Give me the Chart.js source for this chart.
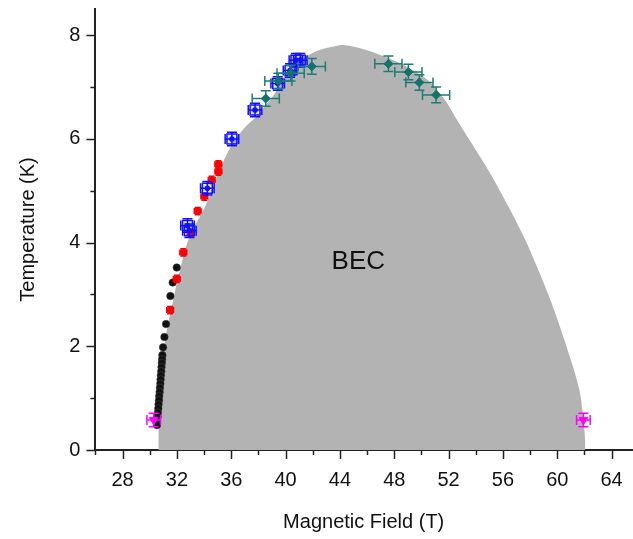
<!DOCTYPE html>
<html><head><meta charset="utf-8">
<script src="https://cdn.jsdelivr.net/npm/chart.js@4.4.1/dist/chart.umd.min.js"></script>
<style>html,body{margin:0;padding:0;background:#fff}canvas{display:block}</style>
</head><body>
<canvas id="c" width="633" height="539"></canvas>
<script>
// ---- tick values ----
const xTickValues = [26,28,30,32,34,36,38,40,42,44,46,48,50,52,54,56,58,60,62,64];
const yTickValues = [0,1,2,3,4,5,6,7,8];

// ---- BEC phase boundary (shaded region) ----
const becField = [30.63,30.63,30.70,30.89,31.13,31.62,32.23,32.89,34.07,35.05,35.98,37.02,37.90,38.26,39.37,40.18,40.91,41.58,42.53,43.64,44.37,45.49,46.97,48.66,50.43,51.73,52.54,53.54,54.64,55.67,56.70,57.65,58.54,59.41,60.15,60.81,61.33,61.70,61.92,62.05,62.07];
const becTemp  = [0.00,0.19,0.83,1.49,2.12,2.76,3.47,4.09,4.69,5.34,5.86,6.23,6.44,6.56,6.94,7.33,7.50,7.60,7.72,7.79,7.81,7.75,7.62,7.43,7.14,6.75,6.40,5.98,5.52,5.05,4.55,4.05,3.51,2.95,2.41,1.89,1.45,1.06,0.58,0.19,0.00];

// ---- black circles ----
const blackField = [31.99,31.69,31.52,31.20,31.08,30.98,30.93,30.91,30.89,30.87,30.85,30.82,30.80,30.78,30.75,30.73,30.70,30.68,30.65,30.63,30.60,30.58,30.55,30.53];
const blackTemp  = [3.52,3.23,2.97,2.43,2.18,1.98,1.83,1.75,1.68,1.60,1.52,1.44,1.36,1.28,1.20,1.12,1.04,0.96,0.88,0.80,0.72,0.64,0.56,0.48];

// ---- red points ----
const redField = [31.50,31.99,32.47,33.02,33.53,34.02,34.56,35.05,35.05];
const redTemp  = [2.70,3.30,3.81,4.19,4.61,4.89,5.21,5.37,5.51];
const redFieldErr = 0.25, redTempErr = 0.07;

// ---- blue squares ----
const blueField = [32.78,32.92,34.24,36.05,37.75,39.42,40.33,40.76,41.08];
const blueTemp  = [4.33,4.23,5.05,6.00,6.56,7.07,7.32,7.52,7.52];
const blueFieldErr = 0.5, blueTempErr = 0.13;

// ---- teal diamonds ----
const tealField = [38.54,39.47,40.37,41.93,47.57,49.04,49.85,51.08];
const tealTemp  = [6.78,7.12,7.27,7.40,7.45,7.29,7.09,6.85];
const tealFieldErr = 1.0, tealTempErr = 0.15;

// ---- magenta triangles ----
const magentaField = [30.29,61.92];
const magentaTemp  = [0.58,0.58];
const magentaFieldErr = 0.5, magentaTempErr = 0.13;

const pts = (xs, ys) => xs.map((x, i) => ({x, y: ys[i]}));
const FONT = "Arial, 'Liberation Sans', sans-serif";

const errorBars = {
  id: 'errorBars',
  beforeDatasetDraw(chart, args) {
    const ds = chart.data.datasets[args.index];
    if (ds.errX == null) return;
    const xs = chart.scales.x, ys = chart.scales.y, ctx = chart.ctx;
    ctx.save();
    ctx.strokeStyle = ds.errColor;
    ctx.lineWidth = ds.errWidth || 1.5;
    const cap = ds.capSize || 4;
    ds.data.forEach(p => {
      const px = xs.getPixelForValue(p.x), py = ys.getPixelForValue(p.y);
      const x0 = xs.getPixelForValue(p.x - ds.errX), x1 = xs.getPixelForValue(p.x + ds.errX);
      const y0 = ys.getPixelForValue(p.y - ds.errY), y1 = ys.getPixelForValue(p.y + ds.errY);
      ctx.beginPath();
      ctx.moveTo(x0, py); ctx.lineTo(x1, py);
      ctx.moveTo(x0, py - cap); ctx.lineTo(x0, py + cap);
      ctx.moveTo(x1, py - cap); ctx.lineTo(x1, py + cap);
      ctx.moveTo(px, y0); ctx.lineTo(px, y1);
      ctx.moveTo(px - cap, y0); ctx.lineTo(px + cap, y0);
      ctx.moveTo(px - cap, y1); ctx.lineTo(px + cap, y1);
      ctx.stroke();
    });
    ctx.restore();
  }
};

const tickMarks = {
  id: 'tickMarks',
  afterDraw(chart) {
    const ctx = chart.ctx, xs = chart.scales.x, ys = chart.scales.y;
    ctx.save();
    ctx.strokeStyle = '#222';
    ctx.lineWidth = 1.5;
    xTickValues.forEach(v => {
      const px = Math.round(xs.getPixelForValue(v)) + 0.5;
      const len = ((v - 28) % 4 === 0) ? 9 : 5;
      ctx.beginPath(); ctx.moveTo(px, xs.top); ctx.lineTo(px, xs.top + len); ctx.stroke();
    });
    yTickValues.forEach(v => {
      const py = Math.round(ys.getPixelForValue(v)) + 0.5;
      const len = (v % 2 === 0) ? 9 : 5;
      ctx.beginPath(); ctx.moveTo(ys.right, py); ctx.lineTo(ys.right - len, py); ctx.stroke();
    });
    ctx.restore();
  }
};

const becLabel = {
  id: 'becLabel',
  afterDatasetsDraw(chart) {
    const ctx = chart.ctx, xs = chart.scales.x, ys = chart.scales.y;
    ctx.save();
    ctx.fillStyle = '#111';
    ctx.font = '26px ' + FONT;
    ctx.textAlign = 'center';
    ctx.textBaseline = 'middle';
    ctx.fillText('BEC', xs.getPixelForValue(45.35), ys.getPixelForValue(3.63));
    ctx.restore();
  }
};

new Chart(document.getElementById('c'), {
  type: 'scatter',
  data: {
    datasets: [
      { label: 'BEC', data: pts(becField, becTemp), showLine: true, fill: 'origin',
        backgroundColor: '#b3b3b3', borderColor: '#b3b3b3', borderWidth: 0,
        pointRadius: 0, tension: 0.35, order: 10 },
      { label: 'black', data: pts(blackField, blackTemp), pointRadius: 3.8,
        backgroundColor: '#111', borderColor: '#444', borderWidth: 0.5, order: 5 },
      { label: 'red', data: pts(redField, redTemp), pointRadius: 3.3,
        backgroundColor: '#ff0000', borderColor: '#ff0000', borderWidth: 1, order: 4,
        errX: redFieldErr, errY: redTempErr, errColor: '#ff0000', errWidth: 1.5, capSize: 3 },
      { label: 'blue', data: pts(blueField, blueTemp), pointStyle: 'rect', pointRadius: 7,
        backgroundColor: 'rgba(0,0,255,0.08)', borderColor: '#1010ff', borderWidth: 1.5, order: 3,
        errX: blueFieldErr, errY: blueTempErr, errColor: '#1010ff', errWidth: 1.5, capSize: 5 },
      { label: 'blueCenter', data: pts(blueField, blueTemp), pointRadius: 2.8,
        backgroundColor: '#1010ff', borderColor: '#1010ff', borderWidth: 0, order: 2 },
      { label: 'teal', data: pts(tealField, tealTemp), pointStyle: 'rectRot', pointRadius: 4.5,
        backgroundColor: '#13736b', borderColor: '#13736b', borderWidth: 1, order: 1,
        errX: tealFieldErr, errY: tealTempErr, errColor: '#1d7d75', errWidth: 1.5, capSize: 5 },
      { label: 'magenta', data: pts(magentaField, magentaTemp), pointStyle: 'triangle', rotation: 180,
        pointRadius: 5, backgroundColor: '#ff00ff', borderColor: '#ff00ff', borderWidth: 1, order: 0,
        errX: magentaFieldErr, errY: magentaTempErr, errColor: '#ff00ff', errWidth: 1.5, capSize: 5 }
    ]
  },
  options: {
    responsive: false,
    animation: false,
    devicePixelRatio: 1,
    layout: { autoPadding: false, padding: { top: 9, right: 1, left: 0, bottom: 0 } },
    plugins: { legend: { display: false }, tooltip: { enabled: false } },
    scales: {
      x: {
        type: 'linear', min: 26, max: 65.5,
        afterBuildTicks: s => { s.ticks = xTickValues.map(v => ({value: v})); },
        afterFit: s => { s.height = 89; s.paddingLeft = 0; s.paddingRight = 0; },
        grid: { display: false, drawTicks: true, tickLength: 18 },
        border: { display: true, color: '#222', width: 2 },
        ticks: { padding: 0, color: '#111', font: { family: FONT, size: 20 }, maxRotation: 0, autoSkip: false,
          callback: v => ((v - 28) % 4 === 0 ? String(v) : '') },
        title: { display: true, text: 'Magnetic Field (T)', color: '#111',
          font: { family: FONT, size: 20 }, padding: { top: 0, bottom: 5 } }
      },
      y: {
        type: 'linear', min: 0, max: 8.507,
        afterBuildTicks: s => { s.ticks = yTickValues.map(v => ({value: v})); },
        afterFit: s => { s.width = 95.4; s.paddingTop = 0; s.paddingBottom = 0; },
        grid: { display: false, drawTicks: true, tickLength: 15 },
        border: { display: true, color: '#222', width: 2 },
        ticks: { padding: 0, color: '#111', font: { family: FONT, size: 20 }, autoSkip: false,
          callback: v => (v % 2 === 0 ? String(v) : '') },
        title: { display: true, text: 'Temperature (K)', color: '#111',
          font: { family: FONT, size: 20 }, padding: { top: 16, bottom: 0 } }
      }
    }
  },
  plugins: [errorBars, tickMarks, becLabel]
});
</script>
</body></html>
